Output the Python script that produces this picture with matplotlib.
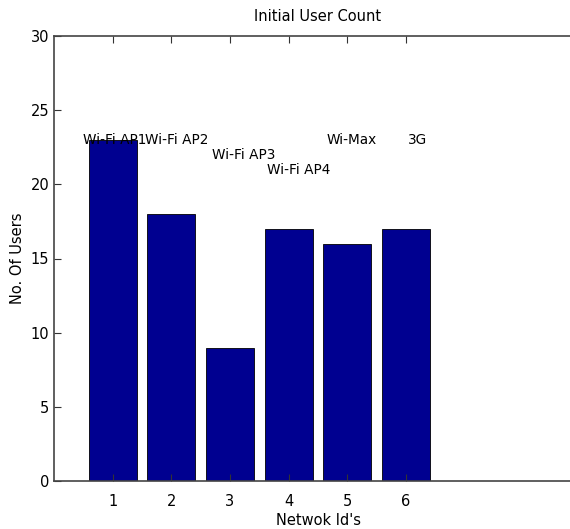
import numpy as np
import matplotlib.pyplot as plt

# data
net_ids = [1, 2, 3, 4, 5, 6]
users = [23, 18, 9, 17, 16, 17]
net_names = ['Wi-Fi AP1', 'Wi-Fi AP2', 'Wi-Fi AP3', 'Wi-Fi AP4', 'Wi-Max', '3G']
name_x = [0.5, 1.55, 2.7, 3.63, 4.65, 6.03]
name_y = [23, 23, 22, 21, 23, 23]
yticks = [0, 5, 10, 15, 20, 25, 30]

plt.rcParams['font.family'] = ['Liberation Sans Narrow', 'DejaVu Sans']
plt.rcParams['font.size'] = 10.5

fig = plt.figure(figsize=(5.7, 5.29), dpi=100)
# axes runs past the right edge of the figure (clipped like the original)
ax = fig.add_axes([54/570, 1 - 481/529, 528/570, 445/529])

ax.bar(net_ids, users, width=0.82, color='#000090', edgecolor='black', linewidth=0.6)
for x, y, s in zip(name_x, name_y, net_names):
    ax.text(x, y, s, ha='left', va='center', fontsize=9.8)

ax.set_xlim(0, 9)
ax.set_ylim(0, 30)
ax.set_xticks(net_ids)
ax.set_yticks(yticks)
ax.tick_params(direction='in', top=True, right=False, length=5, width=0.8, colors='#333333', labelcolor='black')
ax.tick_params(axis='x', pad=9)
for sp in ax.spines.values():
    sp.set_color('#444444')
    sp.set_linewidth(1.2)

ax.set_title('Initial User Count', fontsize=10.5, pad=11)
ax.set_xlabel("Netwok Id's", labelpad=3)
ax.set_ylabel('No. Of Users', labelpad=4)

fig.savefig('out.png', dpi=100)
